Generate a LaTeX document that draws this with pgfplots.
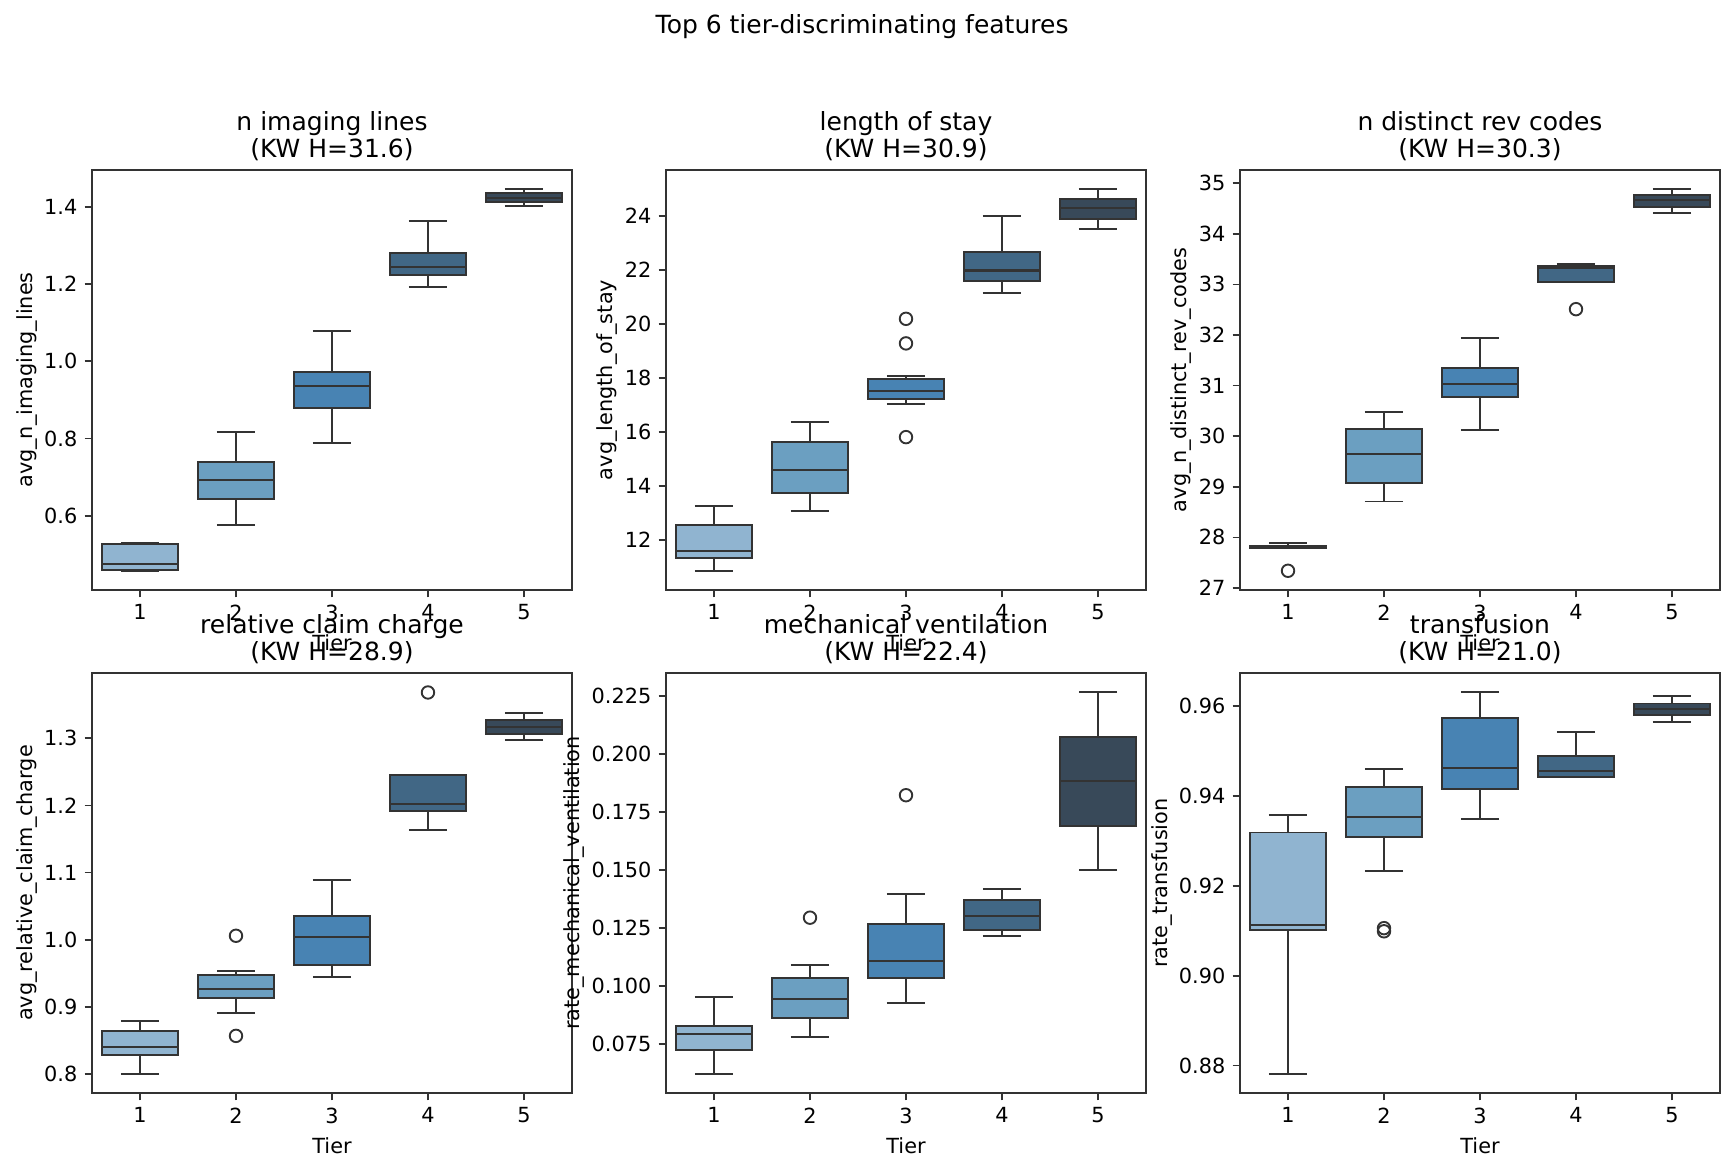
\documentclass[border=0pt]{standalone}
\usepackage{pgfplots}
\pgfplotsset{compat=1.18}
\usepgfplotslibrary{statistics}
\usepackage{fontspec}
\setmainfont{DejaVu Sans}

\definecolor{tone1}{HTML}{90B4D0}
\definecolor{tone2}{HTML}{6B9FC1}
\definecolor{tone3}{HTML}{4883B3}
\definecolor{tone4}{HTML}{416785}
\definecolor{tone5}{HTML}{384959}
\definecolor{edge}{HTML}{333333}

\pgfplotsset{
  panel/.style={
    scale only axis, width=230.4pt, height=201.6pt, anchor=south west,
    xmin=0.5, xmax=5.5, xtick={1,2,3,4,5}, xlabel={Tier},
    tick pos=left, tick align=outside, major tick length=3.5pt,
    axis line style={edge, line width=0.8pt},
    every tick/.style={edge, line width=0.8pt},
    tick label style={font=\fontsize{10}{12}\selectfont},
    label style={font=\fontsize{10}{12}\selectfont},
    ylabel style={yshift=-3.5pt},
    title style={font=\fontsize{12}{13}\selectfont, align=center, yshift=-5pt},
    /pgf/number format/assume math mode=true,
    boxplot/draw direction=y,
    boxplot/box extend=0.8, boxplot/whisker extend=0.4,
    boxplot/every median/.style={draw=edge, line width=1pt},
  },
  bx/.style={draw=edge, line width=0.9pt, fill=#1, mark=o, mark size=3pt,
    mark options={draw=edge, line width=0.9pt}},
}

\begin{document}
\begin{tikzpicture}
\path[use as bounding box] (0,0) rectangle (832.32pt,562.56pt);
\node[font=\fontsize{12}{14.4}\selectfont] at (413.8pt,549.6pt) {Top 6 tier-discriminating features};

% n imaging lines
\begin{axis}[panel, at={(44.16pt,279.36pt)},
  title={n imaging lines\\(KW H=31.6)}, ylabel={avg\_n\_imaging\_lines},
  ymin=0.408, ymax=1.495, ytick={0.6,0.8,1.0,1.2,1.4},
  yticklabel style={/pgf/number format/.cd, fixed, fixed zerofill, precision=1}]
\addplot[bx=tone1, boxplot prepared={draw position=1, lower whisker=0.457, lower quartile=0.460, median=0.476, upper quartile=0.527, upper whisker=0.529}] coordinates {};
\addplot[bx=tone2, boxplot prepared={draw position=2, lower whisker=0.576, lower quartile=0.644, median=0.693, upper quartile=0.740, upper whisker=0.817}] coordinates {};
\addplot[bx=tone3, boxplot prepared={draw position=3, lower whisker=0.789, lower quartile=0.879, median=0.937, upper quartile=0.972, upper whisker=1.079}] coordinates {};
\addplot[bx=tone4, boxplot prepared={draw position=4, lower whisker=1.193, lower quartile=1.223, median=1.245, upper quartile=1.281, upper whisker=1.364}] coordinates {};
\addplot[bx=tone5, boxplot prepared={draw position=5, lower whisker=1.402, lower quartile=1.412, median=1.423, upper quartile=1.436, upper whisker=1.446}] coordinates {};
\end{axis}

% length of stay
\begin{axis}[panel, at={(319.68pt,279.36pt)},
  title={length of stay\\(KW H=30.9)}, ylabel={avg\_length\_of\_stay},
  ymin=10.15, ymax=25.70, ytick={12,14,16,18,20,22,24}]
\addplot[bx=tone1, boxplot prepared={draw position=1, lower whisker=10.86, lower quartile=11.35, median=11.60, upper quartile=12.56, upper whisker=13.27}] coordinates {};
\addplot[bx=tone2, boxplot prepared={draw position=2, lower whisker=13.09, lower quartile=13.75, median=14.58, upper quartile=15.64, upper whisker=16.38}] coordinates {};
\addplot[bx=tone3, boxplot prepared={draw position=3, lower whisker=17.05, lower quartile=17.23, median=17.53, upper quartile=17.96, upper whisker=18.07}] coordinates {(3,20.19) (3,19.28) (3,15.81)};
\addplot[bx=tone4, boxplot prepared={draw position=4, lower whisker=21.16, lower quartile=21.59, median=21.98, upper quartile=22.67, upper whisker=24.00}] coordinates {};
\addplot[bx=tone5, boxplot prepared={draw position=5, lower whisker=23.53, lower quartile=23.89, median=24.28, upper quartile=24.63, upper whisker=25.00}] coordinates {};
\end{axis}

% n distinct rev codes
\begin{axis}[panel, at={(595.2pt,279.36pt)},
  title={n distinct rev codes\\(KW H=30.3)}, ylabel={avg\_n\_distinct\_rev\_codes},
  ymin=26.96, ymax=35.26, ytick={27,28,29,30,31,32,33,34,35}]
\addplot[bx=tone1, boxplot prepared={draw position=1, lower whisker=27.79, lower quartile=27.79, median=27.82, upper quartile=27.84, upper whisker=27.89}] coordinates {(1,27.34)};
\addplot[bx=tone2, boxplot prepared={draw position=2, lower whisker=28.71, lower quartile=29.08, median=29.65, upper quartile=30.14, upper whisker=30.48}] coordinates {};
\addplot[bx=tone3, boxplot prepared={draw position=3, lower whisker=30.12, lower quartile=30.78, median=31.03, upper quartile=31.34, upper whisker=31.94}] coordinates {};
\addplot[bx=tone4, boxplot prepared={draw position=4, lower whisker=33.05, lower quartile=33.05, median=33.32, upper quartile=33.37, upper whisker=33.41}] coordinates {(4,32.51)};
\addplot[bx=tone5, boxplot prepared={draw position=5, lower whisker=34.41, lower quartile=34.53, median=34.66, upper quartile=34.77, upper whisker=34.89}] coordinates {};
\end{axis}

% relative claim charge
\begin{axis}[panel, at={(44.16pt,37.92pt)},
  title={relative claim charge\\(KW H=28.9)}, ylabel={avg\_relative\_claim\_charge},
  ymin=0.772, ymax=1.397, ytick={0.8,0.9,1.0,1.1,1.2,1.3},
  yticklabel style={/pgf/number format/.cd, fixed, fixed zerofill, precision=1}]
\addplot[bx=tone1, boxplot prepared={draw position=1, lower whisker=0.800, lower quartile=0.829, median=0.840, upper quartile=0.864, upper whisker=0.879}] coordinates {};
\addplot[bx=tone2, boxplot prepared={draw position=2, lower whisker=0.891, lower quartile=0.914, median=0.927, upper quartile=0.948, upper whisker=0.953}] coordinates {(2,1.006) (2,0.857)};
\addplot[bx=tone3, boxplot prepared={draw position=3, lower whisker=0.944, lower quartile=0.962, median=1.004, upper quartile=1.035, upper whisker=1.089}] coordinates {};
\addplot[bx=tone4, boxplot prepared={draw position=4, lower whisker=1.163, lower quartile=1.191, median=1.202, upper quartile=1.245, upper whisker=1.245}] coordinates {(4,1.368)};
\addplot[bx=tone5, boxplot prepared={draw position=5, lower whisker=1.297, lower quartile=1.306, median=1.317, upper quartile=1.327, upper whisker=1.337}] coordinates {};
\end{axis}

% mechanical ventilation
\begin{axis}[panel, at={(319.68pt,37.92pt)},
  title={mechanical ventilation\\(KW H=22.4)}, ylabel={rate\_mechanical\_ventilation},
  ymin=0.0539, ymax=0.235, ytick={0.075,0.100,0.125,0.150,0.175,0.200,0.225},
  yticklabel style={/pgf/number format/.cd, fixed, fixed zerofill, precision=3}]
\addplot[bx=tone1, boxplot prepared={draw position=1, lower whisker=0.0621, lower quartile=0.0726, median=0.0794, upper quartile=0.0828, upper whisker=0.0954}] coordinates {};
\addplot[bx=tone2, boxplot prepared={draw position=2, lower whisker=0.0781, lower quartile=0.0863, median=0.0945, upper quartile=0.1034, upper whisker=0.1090}] coordinates {(2,0.1295)};
\addplot[bx=tone3, boxplot prepared={draw position=3, lower whisker=0.0928, lower quartile=0.1034, median=0.1109, upper quartile=0.1266, upper whisker=0.1398}] coordinates {(3,0.1823)};
\addplot[bx=tone4, boxplot prepared={draw position=4, lower whisker=0.1216, lower quartile=0.1242, median=0.1303, upper quartile=0.1371, upper whisker=0.1418}] coordinates {};
\addplot[bx=tone5, boxplot prepared={draw position=5, lower whisker=0.1500, lower quartile=0.1690, median=0.1884, upper quartile=0.2074, upper whisker=0.2268}] coordinates {};
\end{axis}

% transfusion
\begin{axis}[panel, at={(595.2pt,37.92pt)},
  title={transfusion\\(KW H=21.0)}, ylabel={rate\_transfusion},
  ymin=0.8739, ymax=0.9674, ytick={0.88,0.90,0.92,0.94,0.96},
  yticklabel style={/pgf/number format/.cd, fixed, fixed zerofill, precision=2}]
\addplot[bx=tone1, boxplot prepared={draw position=1, lower whisker=0.8781, lower quartile=0.9102, median=0.9113, upper quartile=0.9319, upper whisker=0.9358}] coordinates {};
\addplot[bx=tone2, boxplot prepared={draw position=2, lower whisker=0.9233, lower quartile=0.9309, median=0.9353, upper quartile=0.9420, upper whisker=0.9460}] coordinates {(2,0.9106) (2,0.9099)};
\addplot[bx=tone3, boxplot prepared={draw position=3, lower whisker=0.9349, lower quartile=0.9415, median=0.9462, upper quartile=0.9573, upper whisker=0.9631}] coordinates {};
\addplot[bx=tone4, boxplot prepared={draw position=4, lower whisker=0.9442, lower quartile=0.9442, median=0.9455, upper quartile=0.9490, upper whisker=0.9542}] coordinates {};
\addplot[bx=tone5, boxplot prepared={draw position=5, lower whisker=0.9565, lower quartile=0.9580, median=0.9593, upper quartile=0.9606, upper whisker=0.9623}] coordinates {};
\end{axis}
\end{tikzpicture}
\end{document}
